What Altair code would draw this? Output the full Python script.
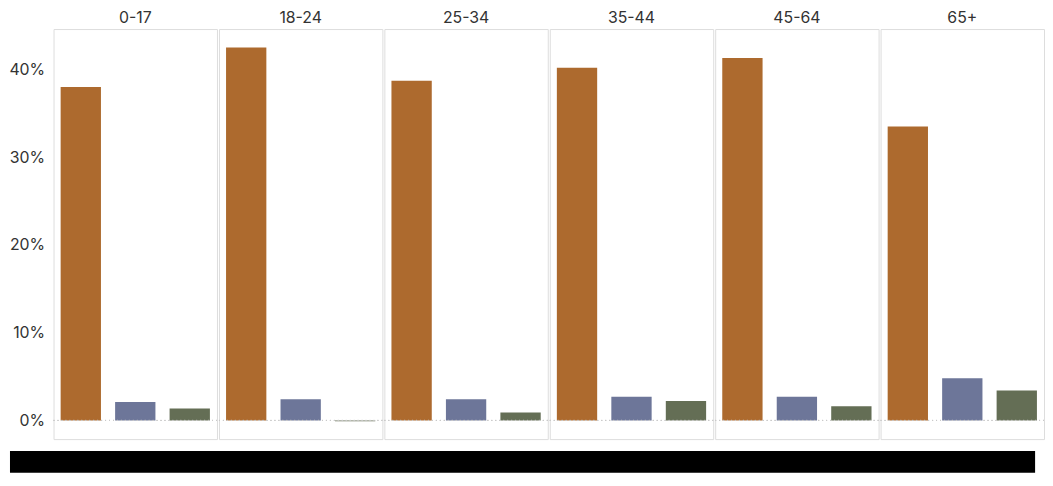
import altair as alt
import pandas as pd

ages = ["0-17", "18-24", "25-34", "35-44", "45-64", "65+"]
series = ["Group 1", "Group 2", "Group 3"]
colors = ["#AD6A2E", "#6D7699", "#646E55"]

group1 = [0.380, 0.425, 0.387, 0.402, 0.413, 0.335]
group2 = [0.021, 0.024, 0.024, 0.027, 0.027, 0.048]
group3 = [0.0135, -0.001, 0.009, 0.022, 0.016, 0.034]

rows = []
for i, a in enumerate(ages):
    for s, vals in zip(series, [group1, group2, group3]):
        rows.append({"age": a, "series": s, "value": vals[i]})
df = pd.DataFrame(rows)

FONT = "Inter"
W = 165
H = 414

ydom = [-0.0213, 0.446]

bars = alt.Chart().mark_bar().encode(
    x=alt.X("series:N", sort=series, axis=None,
            scale=alt.Scale(paddingInner=0.26, paddingOuter=0.13)),
    y=alt.Y("value:Q", scale=alt.Scale(domain=ydom, nice=False, zero=False),
            axis=alt.Axis(title=None, values=[0, 0.1, 0.2, 0.3, 0.4], format=".0%",
                          ticks=False, domain=False, grid=False, labelFontSize=16,
                          labelColor="#333333", labelPadding=8, labelFont=FONT)),
    color=alt.Color("series:N", sort=series,
                    scale=alt.Scale(domain=series, range=colors), legend=None),
)

zero = alt.Chart().mark_rule(color="#c8c8c8", strokeDash=[1, 3], strokeWidth=1).encode(
    y=alt.datum(0)
)

top = alt.layer(bars, zero, data=df).properties(width=W, height=H).facet(
    column=alt.Column("age:N", sort=ages, title=None,
                      header=alt.Header(labelFontSize=16, labelColor="#333333",
                                        labelFont=FONT, labelPadding=2)),
    spacing=0,
)

BAND_W = 6 * W
band = alt.Chart(pd.DataFrame({"k": [0]})).mark_rect(color="black").encode(
    x=alt.value(-44), x2=alt.value(BAND_W + 1), y=alt.value(0), y2=alt.value(22)
).properties(width=BAND_W, height=22,
             view=alt.ViewBackground(stroke="transparent"))

chart = alt.vconcat(top, band, spacing=10).properties(padding=0).configure_view(
    stroke="#d9d9d9", strokeWidth=1
).configure(font=FONT)

chart.save("out.html", embed_options={"renderer": "svg", "actions": False})
